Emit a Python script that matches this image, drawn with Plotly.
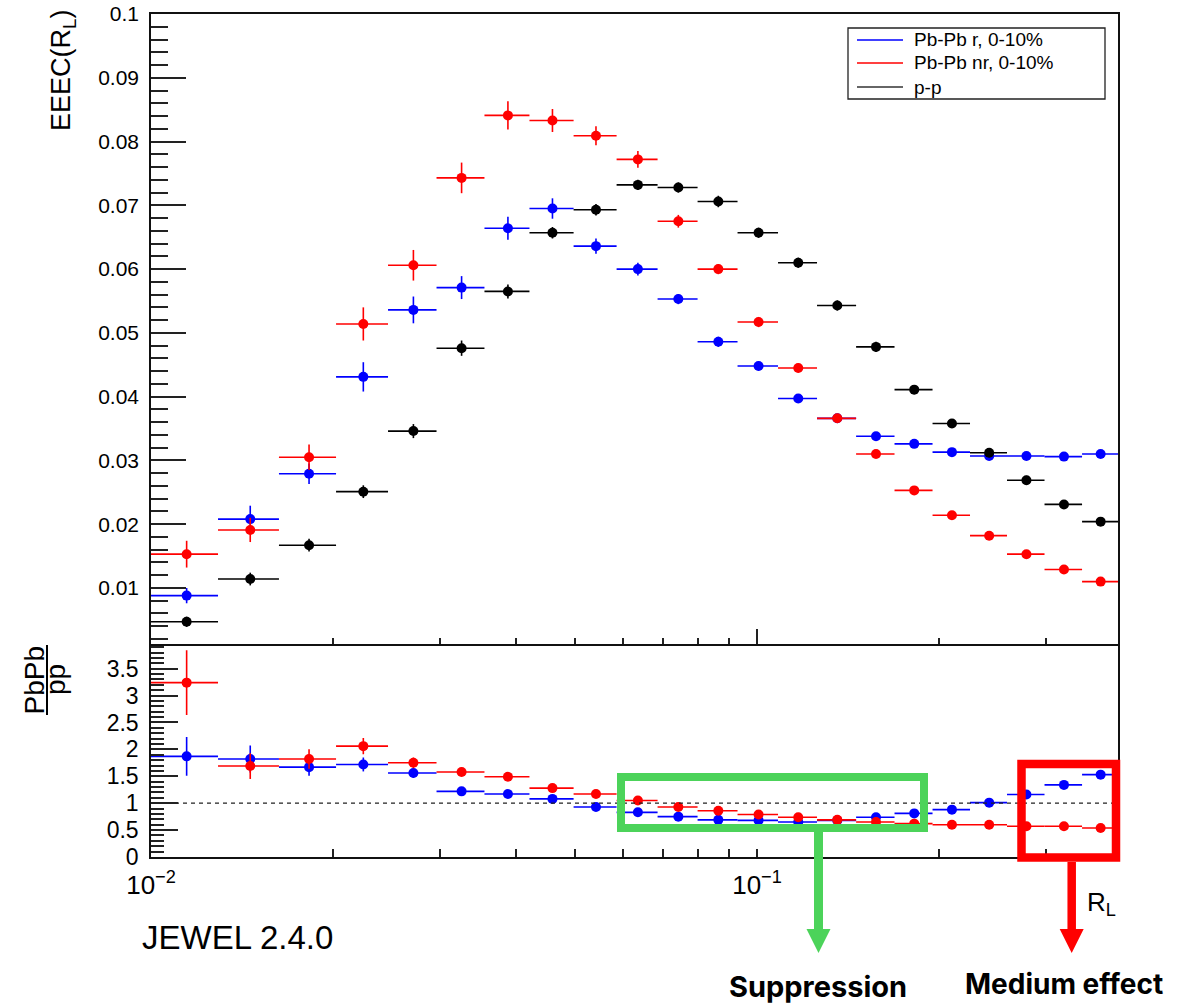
import math
import plotly.graph_objects as go

# ---------------- data ----------------
bin_edges = [0.0100, 0.0129, 0.01626, 0.0202, 0.02461, 0.02959, 0.0355, 0.04212,
             0.04981, 0.05865, 0.06853, 0.07978, 0.09286, 0.1083, 0.1256, 0.1457,
             0.1686, 0.1948, 0.2246, 0.2585, 0.2981, 0.3438, 0.3941]

eeec_r = [0.0088, 0.0208, 0.0279, 0.0431, 0.0536, 0.0571, 0.0664, 0.0695, 0.0636, 0.0600, 0.0553,
          0.0486, 0.0448, 0.0397, 0.0366, 0.0338, 0.0326, 0.0313, 0.0307, 0.0307, 0.0306, 0.0310]
eeec_r_err = [0.0012, 0.0021, 0.0016, 0.0023, 0.0021, 0.0018, 0.0018, 0.0016, 0.0012, 0.0010, 0.0008,
              0.0008, 0.0007, 0.0006, 0.0006, 0.0006, 0.0005, 0.0005, 0.0005, 0.0005, 0.0005, 0.0005]

eeec_nr = [0.0153, 0.0191, 0.0305, 0.0514, 0.0606, 0.0743, 0.0841, 0.0833, 0.0809, 0.0772, 0.0675,
           0.0600, 0.0517, 0.0445, 0.0366, 0.0310, 0.0253, 0.0214, 0.0182, 0.0153, 0.0129, 0.0110]
eeec_nr_err = [0.0021, 0.0019, 0.0020, 0.0026, 0.0024, 0.0024, 0.0022, 0.0018, 0.0015, 0.0013, 0.0010,
               0.0008, 0.0008, 0.0007, 0.0006, 0.0006, 0.0005, 0.0005, 0.0005, 0.0005, 0.0004, 0.0004]

eeec_pp = [0.0047, 0.0114, 0.0167, 0.0251, 0.0346, 0.0476, 0.0565, 0.0657, 0.0693, 0.0732, 0.0728,
           0.0706, 0.0657, 0.0610, 0.0543, 0.0478, 0.0411, 0.0358, 0.0312, 0.0269, 0.0231, 0.0204]
eeec_pp_err = [0.0008, 0.0010, 0.0010, 0.0010, 0.0011, 0.0012, 0.0011, 0.0009, 0.0009, 0.0008, 0.0008,
               0.0009, 0.0008, 0.0008, 0.0008, 0.0008, 0.0007, 0.0007, 0.0007, 0.0007, 0.0006, 0.0006]

ratio_r = [1.87, 1.82, 1.67, 1.72, 1.56, 1.22, 1.17, 1.08, 0.93, 0.83, 0.75,
           0.69, 0.68, 0.65, 0.68, 0.74, 0.81, 0.88, 1.01, 1.16, 1.34, 1.53]
ratio_r_err = [0.36, 0.25, 0.16, 0.13, 0.09, 0.07, 0.06, 0.05, 0.04, 0.035, 0.03,
               0.03, 0.03, 0.03, 0.03, 0.03, 0.03, 0.03, 0.035, 0.04, 0.04, 0.05]

ratio_nr = [3.24, 1.69, 1.82, 2.06, 1.75, 1.58, 1.49, 1.28, 1.17, 1.05, 0.93,
            0.86, 0.79, 0.74, 0.69, 0.65, 0.62, 0.60, 0.60, 0.57, 0.57, 0.54]
ratio_nr_err = [0.60, 0.24, 0.18, 0.15, 0.10, 0.08, 0.07, 0.06, 0.05, 0.04, 0.04,
                0.035, 0.03, 0.03, 0.03, 0.03, 0.025, 0.025, 0.025, 0.025, 0.025, 0.025]

series_names = ["Pb-Pb r, 0-10%", "Pb-Pb nr, 0-10%", "p-p"]
x_major_ticks = [0.01, 0.1]
x_major_text = ["10<sup>\u22122</sup>", "10<sup>\u22121</sup>"]
x_minor_ticks = [0.02, 0.03, 0.04, 0.05, 0.06, 0.07, 0.08, 0.09, 0.2, 0.3]

# ---------------- helpers ----------------
W, H = 1193, 1004
def PX(x):
    return x / W
def PY(y):
    return 1 - y / H

lo = bin_edges[:-1]
hi = bin_edges[1:]
centers = [(a + b) / 2 for a, b in zip(lo, hi)]
ex_plus = [b - c for b, c in zip(hi, centers)]
ex_minus = [c - a for a, c in zip(lo, centers)]

BLUE, RED, BLACK = "#0000ff", "#ff0000", "#000000"
GREEN = "rgb(76,211,90)"
FONT = "Liberation Sans"

fig = go.Figure()

def add_series(y, err, color, xa, ya):
    fig.add_trace(go.Scatter(
        x=centers, y=y, mode="markers",
        marker=dict(size=10, color=color),
        error_x=dict(type="data", symmetric=False, array=ex_plus, arrayminus=ex_minus,
                     color=color, thickness=1.6, width=0),
        error_y=dict(type="data", array=err, color=color, thickness=1.6, width=0),
        xaxis=xa, yaxis=ya, showlegend=False, hoverinfo="x+y"))

add_series(eeec_r, eeec_r_err, BLUE, "x", "y")
add_series(eeec_nr, eeec_nr_err, RED, "x", "y")
add_series(eeec_pp, eeec_pp_err, BLACK, "x", "y")
add_series(ratio_r, ratio_r_err, BLUE, "x2", "y2")
add_series(ratio_nr, ratio_nr_err, RED, "x2", "y2")

xrange = [-2, math.log10(bin_edges[-1])]
xdom = [PX(151), PX(1118)]
axis_common = dict(showline=True, linecolor="#111", linewidth=1.5, mirror=True,
                   showgrid=False, zeroline=False, tickcolor="#222", tickwidth=1.5,
                   automargin=False)

fig.update_layout(
    width=W, height=H, margin=dict(l=0, r=0, t=0, b=0, pad=0),
    paper_bgcolor="white", plot_bgcolor="white",
    font=dict(family=FONT, color="black"),
    showlegend=False,
    xaxis=dict(domain=xdom, type="log", range=xrange, anchor="y",
               tickmode="array", tickvals=x_major_ticks, showticklabels=False,
               ticks="inside", ticklen=17,
               minor=dict(tickmode="array", tickvals=x_minor_ticks, ticks="inside",
                          ticklen=8, tickcolor="#222", tickwidth=1.5),
               **axis_common),
    yaxis=dict(domain=[PY(646), PY(14)], range=[0.0009, 0.1], anchor="x",
               tick0=0, dtick=0.01, ticks="inside", ticklen=35,
               tickfont=dict(size=21, family=FONT), ticklabelstandoff=6,
               minor=dict(dtick=0.002, tick0=0, ticks="inside", ticklen=17,
                          tickcolor="#222", tickwidth=1.5),
               **axis_common),
    xaxis2=dict(domain=xdom, type="log", range=xrange, anchor="y2",
                tickmode="array", tickvals=x_major_ticks, ticktext=x_major_text,
                tickfont=dict(size=26, family=FONT), ticklabelstandoff=4,
                ticks="inside", ticklen=8,
                minor=dict(tickmode="array", tickvals=x_minor_ticks, ticks="inside",
                           ticklen=8, tickcolor="#222", tickwidth=1.5),
                **axis_common),
    yaxis2=dict(domain=[PY(857), PY(645.5)], range=[0, 3.93], anchor="x2",
                tick0=0, dtick=0.5, ticks="inside", ticklen=27,
                tickfont=dict(size=23, family=FONT), ticklabelstandoff=6,
                minor=dict(dtick=0.1, tick0=0, ticks="inside", ticklen=13,
                           tickcolor="#222", tickwidth=1.5),
                **axis_common),
)

shapes = []
# dashed unity line in ratio panel
shapes.append(dict(type="line", xref="x2 domain", yref="y2", x0=0, x1=1, y0=1, y1=1,
                   line=dict(color="#222", width=1.3, dash="4px,4px"), layer="above"))

# legend box (ROOT style, lines)
shapes.append(dict(type="rect", xref="paper", yref="paper",
                   x0=PX(848), x1=PX(1105), y0=PY(99), y1=PY(28),
                   line=dict(color="#222", width=1.3), fillcolor="white", layer="above"))
legend_rows = [40, 63, 87]
for name, col, yy in zip(series_names, [BLUE, RED, "#333"], legend_rows):
    shapes.append(dict(type="line", xref="paper", yref="paper",
                       x0=PX(857), x1=PX(903), y0=PY(yy), y1=PY(yy),
                       line=dict(color=col, width=1.4), layer="above"))

# ratio title fraction bar
shapes.append(dict(type="line", xref="paper", yref="paper",
                   x0=PX(47), x1=PX(47), y0=PY(645), y1=PY(715),
                   line=dict(color="black", width=2)))

# highlight boxes
shapes.append(dict(type="rect", xref="paper", yref="paper",
                   x0=PX(621), x1=PX(924), y0=PY(828), y1=PY(777),
                   line=dict(color=GREEN, width=8), layer="above"))
shapes.append(dict(type="rect", xref="paper", yref="paper",
                   x0=PX(1021.5), x1=PX(1116), y0=PY(857.5), y1=PY(764),
                   line=dict(color=RED, width=8.5), layer="above"))

# arrows
def arrow(xc, y_start, color, w_shaft):
    shapes.append(dict(type="line", xref="paper", yref="paper",
                       x0=PX(xc), x1=PX(xc), y0=PY(y_start), y1=PY(931),
                       line=dict(color=color, width=w_shaft)))
    path = "M {:.5f},{:.5f} L {:.5f},{:.5f} L {:.5f},{:.5f} Z".format(
        PX(xc - 12), PY(929), PX(xc + 12), PY(929), PX(xc), PY(953))
    shapes.append(dict(type="path", xref="paper", yref="paper", path=path,
                       fillcolor=color, line=dict(color=color, width=0)))

arrow(818.5, 832, GREEN, 9)
arrow(1071.7, 862, RED, 8.5)

fig.update_layout(shapes=shapes)

ann = []
def text(x, y, s, size, xanchor="center", yanchor="middle", angle=0, family=FONT, color="black"):
    ann.append(dict(x=PX(x), y=PY(y), xref="paper", yref="paper", text=s,
                    showarrow=False, xanchor=xanchor, yanchor=yanchor, textangle=angle,
                    font=dict(size=size, family=family, color=color)))

for name, yy in zip(series_names, legend_rows):
    text(912, yy, name, 19, xanchor="left")

text(63, 70, "EEEC(R<sub>L</sub>)", 27, angle=-90)
text(33.5, 680, "PbPb", 28, angle=-90)
text(55, 680, "pp", 28, angle=-90)
text(1118, 903, "R<sub>L</sub>", 26, xanchor="right")
text(237.5, 937, "JEWEL 2.4.0", 33)
text(817.5, 986, "<b>Suppression</b>", 29, family="Inter")
text(1064, 1003, "<b>Medium effect</b>", 28, family="Inter", yanchor="bottom")

fig.update_layout(annotations=ann)

fig.write_html("out.html")
